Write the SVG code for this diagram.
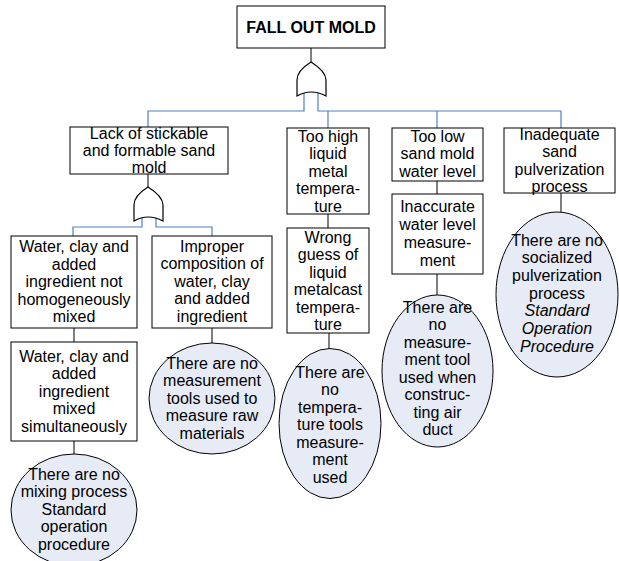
<svg xmlns="http://www.w3.org/2000/svg" width="619" height="561" viewBox="0 0 619 561">
<style>
.box{fill:#fff;stroke:#000;stroke-width:1}
.ell{fill:#e6ebf6;stroke:#000;stroke-width:1}
.gate{fill:#fff;stroke:#000;stroke-width:1.2}
.k{fill:none;stroke:#000;stroke-width:1}
.b{fill:none;stroke:#4f7fc6;stroke-width:1.2}
text{font-family:"Liberation Sans",Arial,sans-serif;font-size:16px;fill:#000;text-anchor:middle}
.it{font-style:italic}
.title{font-weight:bold;font-size:16px}
</style>
<rect width="619" height="561" fill="#fff"/>
<g id="connectors">
<path class="k" d="M311,48V62"/>
<path class="b" d="M304,93V111H148V127"/>
<path class="b" d="M318,93V111H561V128"/>
<path class="b" d="M328,111V128"/>
<path class="b" d="M437,111V128"/>
<path class="k" d="M148,174V187"/>
<path class="b" d="M142,218V227H73V236"/>
<path class="b" d="M156,218V227H212V236"/>
<path class="k" d="M74,328V342"/>
<path class="k" d="M74,441V454"/>
<path class="k" d="M212,328V343"/>
<path class="k" d="M328,214V228"/>
<path class="k" d="M329,333V349"/>
<path class="k" d="M437,181V194"/>
<path class="k" d="M437,274V295"/>
<path class="k" d="M561,193V212"/>
</g>
<g id="gate-top">
<path class="gate" d="M311,62C303,67 297,73 297,80L297,96Q311,88 326,96L326,80C326,73 319,67 311,62Z"/>
</g>
<g id="gate-left">
<path class="gate" d="M148,187C140,192 134,198 134,205L134,221Q148,213 163,221L163,205C163,198 156,192 148,187Z"/>
</g>
<g id="n-top">
<rect class="box" x="237" y="6" width="148" height="42"/>
<text class="title" x="311" y="33">FALL OUT MOLD</text>
</g>
<g id="n-lack">
<rect class="box" x="70" y="127" width="158" height="47"/>
<text x="149" y="139">Lack of stickable</text>
<text x="149" y="156">and formable sand</text>
<text x="149" y="173">mold</text>
</g>
<g id="n-toohigh">
<rect class="box" x="287" y="128" width="82" height="86"/>
<text x="328" y="141.5">Too high</text>
<text x="328" y="158.5">liquid</text>
<text x="328" y="176.5">metal</text>
<text x="328" y="193.5">tempera-</text>
<text x="328" y="211.5">ture</text>
</g>
<g id="n-toolow">
<rect class="box" x="392" y="128" width="91" height="53"/>
<text x="437.5" y="141.5">Too low</text>
<text x="437.5" y="159">sand mold</text>
<text x="437.5" y="176.5">water level</text>
</g>
<g id="n-inadequate">
<rect class="box" x="504" y="128" width="111" height="65"/>
<text x="559.5" y="139.5">Inadequate</text>
<text x="559.5" y="157">sand</text>
<text x="559.5" y="174.5">pulverization</text>
<text x="559.5" y="192">process</text>
</g>
<g id="n-inaccurate">
<rect class="box" x="392" y="194" width="91" height="80"/>
<text x="437.5" y="211.5">Inaccurate</text>
<text x="437.5" y="229.5">water level</text>
<text x="437.5" y="247.5">measure-</text>
<text x="437.5" y="265.5">ment</text>
</g>
<g id="n-socialized">
<ellipse class="ell" cx="557" cy="294.5" rx="61" ry="82.5"/>
<text x="557" y="245.5">There are no</text>
<text x="557" y="263.2">socialized</text>
<text x="557" y="280.9">pulverization</text>
<text x="557" y="298.6">process</text>
<text class="it" x="557" y="316.3">Standard</text>
<text class="it" x="557" y="334">Operation</text>
<text class="it" x="557" y="351.7">Procedure</text>
</g>
<g id="n-wrong">
<rect class="box" x="287" y="228" width="82" height="105"/>
<text x="328" y="242.5">Wrong</text>
<text x="328" y="260">guess of</text>
<text x="328" y="277.5">liquid</text>
<text x="328" y="295">metalcast</text>
<text x="328" y="312.5">tempera-</text>
<text x="328" y="330">ture</text>
</g>
<g id="n-temptools">
<ellipse class="ell" cx="330" cy="423.5" rx="51" ry="75"/>
<text x="330" y="377.5">There are</text>
<text x="330" y="395">no</text>
<text x="330" y="412.5">tempera-</text>
<text x="330" y="430">ture tools</text>
<text x="330" y="447.5">measure-</text>
<text x="330" y="465">ment</text>
<text x="330" y="482.5">used</text>
</g>
<g id="n-airduct">
<ellipse class="ell" cx="437.5" cy="371" rx="55.5" ry="76"/>
<text x="437.5" y="312.5">There are</text>
<text x="437.5" y="330">no</text>
<text x="437.5" y="347.5">measure-</text>
<text x="437.5" y="365">ment tool</text>
<text x="437.5" y="382.5">used when</text>
<text x="437.5" y="400">construc-</text>
<text x="437.5" y="417.5">ting air</text>
<text x="437.5" y="435">duct</text>
</g>
<g id="n-nothomog">
<rect class="box" x="11" y="236" width="126" height="92"/>
<text x="74" y="252">Water, clay and</text>
<text x="74" y="269.5">added</text>
<text x="74" y="287">ingredient not</text>
<text x="74" y="304.5">homogeneously</text>
<text x="74" y="322">mixed</text>
</g>
<g id="n-improper">
<rect class="box" x="152" y="236" width="120" height="92"/>
<text x="212" y="251.5">Improper</text>
<text x="212" y="269">composition of</text>
<text x="212" y="286.5">water, clay</text>
<text x="212" y="304">and added</text>
<text x="212" y="321.5">ingredient</text>
</g>
<g id="n-simult">
<rect class="box" x="11" y="342" width="126" height="99"/>
<text x="74" y="361.5">Water, clay and</text>
<text x="74" y="379">added</text>
<text x="74" y="396.5">ingredient</text>
<text x="74" y="414">mixed</text>
<text x="74" y="431.5">simultaneously</text>
</g>
<g id="n-mixing">
<ellipse class="ell" cx="74" cy="510" rx="63" ry="56"/>
<text x="74" y="479.5">There are no</text>
<text x="74" y="497">mixing process</text>
<text x="74" y="514.5">Standard</text>
<text x="74" y="532">operation</text>
<text x="74" y="549.5">procedure</text>
</g>
<g id="n-measraw">
<ellipse class="ell" cx="212" cy="398.5" rx="63" ry="55.5"/>
<text x="212" y="368.5">There are no</text>
<text x="212" y="386">measurement</text>
<text x="212" y="403.5">tools used to</text>
<text x="212" y="421">measure raw</text>
<text x="212" y="438.5">materials</text>
</g>
</svg>
